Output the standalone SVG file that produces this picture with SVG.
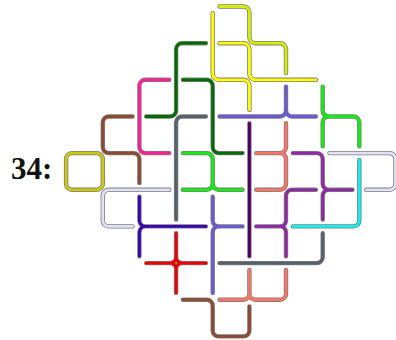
<svg xmlns="http://www.w3.org/2000/svg" xmlns:xlink="http://www.w3.org/1999/xlink" width="396" height="340" viewBox="0 0 396 340">
<style>
.o{fill:none;stroke:#7c7c7c;stroke-width:4.4;stroke-linecap:round;stroke-linejoin:round}
.c{fill:none;stroke-width:2.8;stroke-linecap:round;stroke-linejoin:round}
.lbl{font-family:"Liberation Serif","Times New Roman",serif;font-weight:bold;font-size:31px;fill:#111}
</style>
<defs>
<path id="p-yg" d="M219.5 6.5H243.4A6 6 0 0 1 249.4 12.5V37.2A6 6 0 0 0 255.4 43.2H280A6 6 0 0 1 286 49.2V73"/>
<path id="p-y1" d="M212.7 13.3V73.8A6 6 0 0 0 218.7 79.8H243.4A6 6 0 0 1 249.4 85.8V109.7"/>
<path id="p-y2" d="M219.5 43.2H243.4A6 6 0 0 1 249.4 49.2V73.8A6 6 0 0 0 255.4 79.8H315.9"/>
<path id="p-dg1" d="M205.9 43.2H182.1A6 6 0 0 0 176.1 49.2V110.5A6 6 0 0 1 170.1 116.5H146.2"/>
<path id="p-dg2" d="M182.9 79.8H206.7A6 6 0 0 1 212.7 85.8V147.1A6 6 0 0 0 218.7 153.1H242.6"/>
<path id="p-pk" d="M169.3 79.8H145.4A6 6 0 0 0 139.4 85.8V147.1A6 6 0 0 0 145.4 153.1H169.3"/>
<path id="p-br1" d="M132.6 116.5H108.8A6 6 0 0 0 102.8 122.5V147.1A6 6 0 0 0 108.8 153.1H133.4A6 6 0 0 1 139.4 159.1V183"/>
<path id="p-br2" d="M182.9 299.7H206.7A6 6 0 0 1 212.7 305.7V330.4A6 6 0 0 0 218.7 336.4H243.4A6 6 0 0 0 249.4 330.4V306.5"/>
<path id="p-ol" d="M72.1 153.1H96.8A6 6 0 0 1 102.8 159.1V183.8A6 6 0 0 1 96.8 189.8H72.1A6 6 0 0 1 66.1 183.8V159.1A6 6 0 0 1 72.1 153.1Z"/>
<path id="p-lv1" d="M169.3 189.8H108.8A6 6 0 0 0 102.8 195.8V220.4A6 6 0 0 0 108.8 226.4H132.6"/>
<path id="p-lv2" d="M329.5 153.1H389.5A6 6 0 0 1 395.5 159.1V183.8A6 6 0 0 1 389.5 189.8H366.1"/>
<path id="p-gr1" d="M205.9 116.5H182.1A6 6 0 0 0 176.1 122.5V219.6"/>
<path id="p-gr2" d="M219.5 263.1H316.7A6 6 0 0 0 322.7 257.1V233.2"/>
<path id="p-lm1" d="M322.7 86.6V110.5A6 6 0 0 0 328.7 116.5H353.3A6 6 0 0 1 359.3 122.5V146.3M322.7 146.3V122.5A6 6 0 0 1 328.7 116.5"/>
<path id="p-lm2" d="M182.9 153.1H206.7A6 6 0 0 1 212.7 159.1V183.8A6 6 0 0 1 206.7 189.8H182.9M212.7 183.8A6 6 0 0 0 218.7 189.8H242.6"/>
<path id="p-sb1" d="M219.5 116.5H280A6 6 0 0 0 286 110.5V86.6M315.9 116.5H292A6 6 0 0 1 286 110.5"/>
<path id="p-sb2" d="M212.7 196.6V220.4A6 6 0 0 0 218.7 226.4H242.6M212.7 292.9V232.4A6 6 0 0 1 218.7 226.4"/>
<path id="p-in" d="M139.4 196.6V220.4A6 6 0 0 0 145.4 226.4H205.9M139.4 256.3V232.4A6 6 0 0 1 145.4 226.4"/>
<path id="p-rd" d="M176.1 233.2V257.1A6 6 0 0 0 182.1 263.1H205.9M205.9 263.1H182.1A6 6 0 0 0 176.1 269.1V292.9M176.1 292.9V269.1A6 6 0 0 0 170.1 263.1H146.2M146.2 263.1H170.1A6 6 0 0 0 176.1 257.1V233.2"/>
<path id="p-dp" d="M249.4 123.3V256.3"/>
<path id="p-pu1" d="M292.8 153.1H316.7A6 6 0 0 1 322.7 159.1V183.8A6 6 0 0 0 328.7 189.8H352.5M322.7 219.6V195.8A6 6 0 0 1 328.7 189.8"/>
<path id="p-pu2" d="M315.9 189.8H292A6 6 0 0 0 286 195.8V220.4A6 6 0 0 1 280 226.4H256.2M286 256.3V232.4A6 6 0 0 0 280 226.4"/>
<path id="p-sa1" d="M286 123.3V147.1A6 6 0 0 1 280 153.1H256.2M256.2 153.1H280A6 6 0 0 1 286 159.1V183.8A6 6 0 0 1 280 189.8H256.2"/>
<path id="p-sa2" d="M219.5 299.7H243.4A6 6 0 0 0 249.4 293.7V269.9M249.4 269.9V293.7A6 6 0 0 0 255.4 299.7H280A6 6 0 0 0 286 293.7V269.9"/>
<path id="p-cy" d="M359.3 159.9V220.4A6 6 0 0 1 353.3 226.4H292.8"/>
</defs>
<text class="lbl" x="11" y="178.5">34:</text>
<g id="pieces">
<g id="yellowgreen"><use href="#p-yg" class="o"/><use href="#p-yg" class="c" stroke="#d4f000"/></g>
<g id="yellow-1"><use href="#p-y1" class="o"/><use href="#p-y1" class="c" stroke="#ffff00"/></g>
<g id="yellow-2"><use href="#p-y2" class="o"/><use href="#p-y2" class="c" stroke="#ffff00"/></g>
<g id="darkgreen-1"><use href="#p-dg1" class="o"/><use href="#p-dg1" class="c" stroke="#006c00"/></g>
<g id="darkgreen-2"><use href="#p-dg2" class="o"/><use href="#p-dg2" class="c" stroke="#006c00"/></g>
<g id="pink"><use href="#p-pk" class="o"/><use href="#p-pk" class="c" stroke="#ff1d98"/></g>
<g id="brown-1"><use href="#p-br1" class="o"/><use href="#p-br1" class="c" stroke="#8e4a30"/></g>
<g id="brown-2"><use href="#p-br2" class="o"/><use href="#p-br2" class="c" stroke="#8e4a30"/></g>
<g id="olive"><use href="#p-ol" class="o"/><use href="#p-ol" class="c" stroke="#cdc912"/></g>
<g id="lavender-1"><use href="#p-lv1" class="o"/><use href="#p-lv1" class="c" stroke="#e2e2f6"/></g>
<g id="lavender-2"><use href="#p-lv2" class="o"/><use href="#p-lv2" class="c" stroke="#e2e2f6"/></g>
<g id="slategray-1"><use href="#p-gr1" class="o"/><use href="#p-gr1" class="c" stroke="#56616b"/></g>
<g id="slategray-2"><use href="#p-gr2" class="o"/><use href="#p-gr2" class="c" stroke="#56616b"/></g>
<g id="lime-1"><use href="#p-lm1" class="o"/><use href="#p-lm1" class="c" stroke="#11ee11"/></g>
<g id="lime-2"><use href="#p-lm2" class="o"/><use href="#p-lm2" class="c" stroke="#11ee11"/></g>
<g id="slateblue-1"><use href="#p-sb1" class="o"/><use href="#p-sb1" class="c" stroke="#6a5ad8"/></g>
<g id="slateblue-2"><use href="#p-sb2" class="o"/><use href="#p-sb2" class="c" stroke="#6a5ad8"/></g>
<g id="indigo"><use href="#p-in" class="o"/><use href="#p-in" class="c" stroke="#3a06b0"/></g>
<g id="red"><use href="#p-rd" class="o"/><use href="#p-rd" class="c" stroke="#ee0000"/></g>
<g id="darkpurple"><use href="#p-dp" class="o"/><use href="#p-dp" class="c" stroke="#520068"/></g>
<g id="purple-1"><use href="#p-pu1" class="o"/><use href="#p-pu1" class="c" stroke="#8f27a8"/></g>
<g id="purple-2"><use href="#p-pu2" class="o"/><use href="#p-pu2" class="c" stroke="#8f27a8"/></g>
<g id="salmon-1"><use href="#p-sa1" class="o"/><use href="#p-sa1" class="c" stroke="#fa7565"/></g>
<g id="salmon-2"><use href="#p-sa2" class="o"/><use href="#p-sa2" class="c" stroke="#fa7565"/></g>
<g id="cyan"><use href="#p-cy" class="o"/><use href="#p-cy" class="c" stroke="#10f0f0"/></g>
</g>
</svg>
